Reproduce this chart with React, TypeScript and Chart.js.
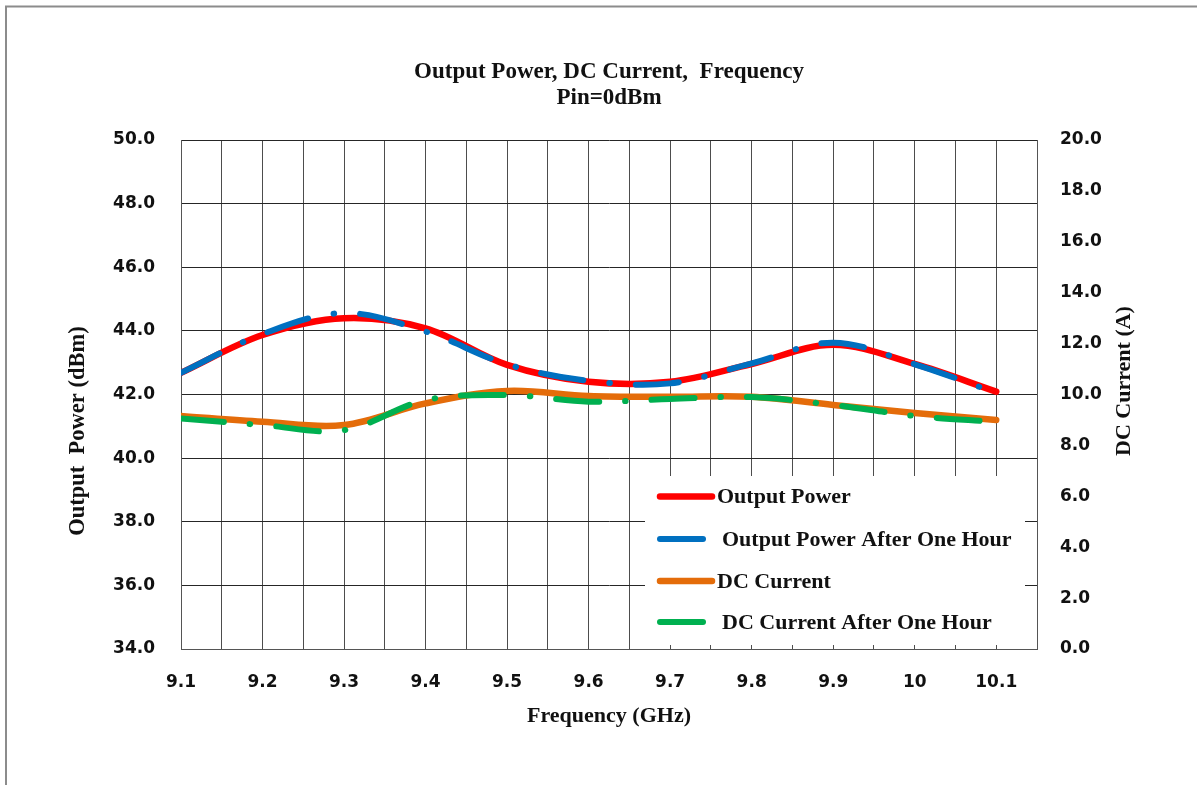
import { useEffect, useRef } from "react";
import { Chart, registerables } from "chart.js";

Chart.register(...registerables);

const frequencies = [9.1, 9.2, 9.3, 9.4, 9.5, 9.6, 9.7, 9.8, 9.9, 10.0, 10.1];
const outputPower = [42.68, 43.87, 44.4, 44.08, 42.93, 42.4, 42.4, 42.96, 43.56, 42.96, 42.09];
const outputPowerAfterOneHour = [42.68, 43.9, 44.56, 43.98, 42.95, 42.43, 42.35, 42.98, 43.63, 42.95, 42.05];
const dcCurrent = [9.16, 8.93, 8.8, 9.65, 10.14, 9.94, 9.91, 9.91, 9.59, 9.27, 9.0];
const dcCurrentAfterOneHour = [9.06, 8.8, 8.6, 9.78, 9.98, 9.72, 9.82, 9.9, 9.59, 9.16, 8.92];

const seriesNames = [
  "Output Power",
  "Output Power After One Hour",
  "DC Current",
  "DC Current After One Hour",
];
const seriesColors = ["#FF0000", "#0070C0", "#E46C0A", "#00B050"];

const titleLines = ["Output Power, DC Current,  Frequency", "Pin=0dBm"];
const xAxisTitle = "Frequency (GHz)";
const leftAxisTitle = "Output  Power (dBm)";
const rightAxisTitle = "DC Current (A)";

const SERIF = '"Liberation Serif", "Times New Roman", serif';
const TICK_FONT = { family: '"DejaVu Sans", sans-serif', size: 17, weight: "bold" as const };
const DASH = [43, 26, 0.5, 26];

const toPoints = (ys: number[]) => frequencies.map((x, i) => ({ x, y: ys[i] }));

const decorPlugin = {
  id: "decor",
  beforeDraw(chart: any) {
    const ctx = chart.ctx as CanvasRenderingContext2D;
    ctx.save();
    ctx.fillStyle = "#ffffff";
    ctx.fillRect(0, 0, chart.width, chart.height);
    ctx.strokeStyle = "#8c8c8c";
    ctx.lineWidth = 2;
    ctx.strokeRect(6, 6.5, chart.width + 20, chart.height + 20);
    ctx.restore();
  },
  afterDatasetsDraw(chart: any) {
    const ctx = chart.ctx as CanvasRenderingContext2D;
    ctx.save();
    ctx.fillStyle = "#ffffff";
    ctx.fillRect(645, 476, 380, 169);
    const rows = [496.5, 539, 581, 622];
    chart.data.datasets.forEach((ds: any, i: number) => {
      const y = rows[i];
      ctx.beginPath();
      ctx.setLineDash(ds.borderDash || []);
      ctx.lineCap = "round";
      ctx.lineWidth = ds.borderWidth;
      ctx.strokeStyle = ds.borderColor;
      ctx.moveTo(660, y);
      ctx.lineTo(712, y);
      ctx.stroke();
      ctx.setLineDash([]);
      ctx.fillStyle = "#111";
      ctx.font = `bold 22px ${SERIF}`;
      ctx.textAlign = "left";
      ctx.textBaseline = "middle";
      ctx.fillText(ds.label, ds.borderDash ? 722 : 717, y + 1);
    });
    ctx.restore();
  },
  afterDraw(chart: any) {
    const ctx = chart.ctx as CanvasRenderingContext2D;
    const area = chart.chartArea;
    const cx = (area.left + area.right) / 2;
    ctx.save();
    ctx.fillStyle = "#111";
    ctx.textAlign = "center";
    ctx.textBaseline = "middle";
    ctx.font = `bold 23px ${SERIF}`;
    ctx.fillText(titleLines[0], cx, 72);
    ctx.fillText(titleLines[1], cx, 98);
    ctx.font = `bold 22px ${SERIF}`;
    ctx.fillText(xAxisTitle, cx, 716);
    ctx.save();
    ctx.translate(78, 431);
    ctx.rotate(-Math.PI / 2);
    ctx.font = `bold 22.5px ${SERIF}`;
    ctx.fillText(leftAxisTitle, 0, 0);
    ctx.restore();
    ctx.save();
    ctx.translate(1124, 381);
    ctx.rotate(-Math.PI / 2);
    ctx.fillText(rightAxisTitle, 0, 0);
    ctx.restore();
    ctx.restore();
  },
};

export default function App() {
  const ref = useRef<HTMLCanvasElement>(null);

  useEffect(() => {
    const canvas = ref.current;
    if (!canvas) return;
    const mk = (i: number, data: number[], axis: string, dashed: boolean, order: number) => ({
      label: seriesNames[i],
      data: toPoints(data),
      yAxisID: axis,
      borderColor: seriesColors[i],
      backgroundColor: seriesColors[i],
      borderWidth: dashed ? 6 : 6.5,
      borderDash: dashed ? DASH : undefined,
      borderCapStyle: "round" as const,
      borderJoinStyle: "round" as const,
      pointRadius: 0,
      tension: 0.35,
      fill: false,
      order,
    });
    const chart = new Chart(canvas, {
      type: "line",
      data: {
        datasets: [
          mk(0, outputPower, "y", false, 4),
          mk(1, outputPowerAfterOneHour, "y", true, 3),
          mk(2, dcCurrent, "y1", false, 2),
          mk(3, dcCurrentAfterOneHour, "y1", true, 1),
        ] as any,
      },
      options: {
        animation: false,
        responsive: false,
        devicePixelRatio: 1,
        layout: { padding: { top: 140, left: 0, right: 0, bottom: 0 } },
        plugins: {
          legend: { display: false },
          title: { display: false },
          tooltip: { enabled: false },
        },
        scales: {
          x: {
            type: "linear",
            min: 9.1,
            max: 10.15,
            afterFit: (s: any) => {
              s.height = 136;
            },
            grid: { color: "#4d4d4d", lineWidth: 1, drawTicks: false },
            border: { display: true, color: "#555" },
            ticks: {
              stepSize: 0.05,
              precision: 2,
              autoSkip: false,
              maxRotation: 0,
              padding: 23,
              color: "#111",
              font: TICK_FONT,
              callback: (v: any) => {
                const n = Math.round(Number(v) * 100);
                if (n % 10 !== 0 || n > 1010) return "";
                return String(n / 100);
              },
            },
          },
          y: {
            position: "left",
            min: 34,
            max: 50,
            afterFit: (s: any) => {
              s.width = 181;
            },
            grid: { color: "#262626", lineWidth: 1, drawTicks: false },
            border: { display: true, color: "#555" },
            ticks: {
              stepSize: 2,
              padding: 26,
              color: "#111",
              font: TICK_FONT,
              callback: (v: any) => Number(v).toFixed(1),
            },
          },
          y1: {
            position: "right",
            min: 0,
            max: 20,
            afterFit: (s: any) => {
              s.width = 160;
            },
            grid: { drawOnChartArea: false, drawTicks: false },
            border: { display: true, color: "#555" },
            ticks: {
              stepSize: 2,
              padding: 23,
              color: "#111",
              font: TICK_FONT,
              callback: (v: any) => Number(v).toFixed(1),
            },
          },
        },
      } as any,
      plugins: [decorPlugin],
    });
    return () => chart.destroy();
  }, []);

  return (
    <div style={{ position: "absolute", left: 0, top: 0, width: 1197, height: 785 }}>
      <canvas ref={ref} width={1197} height={785} style={{ display: "block" }} />
    </div>
  );
}
